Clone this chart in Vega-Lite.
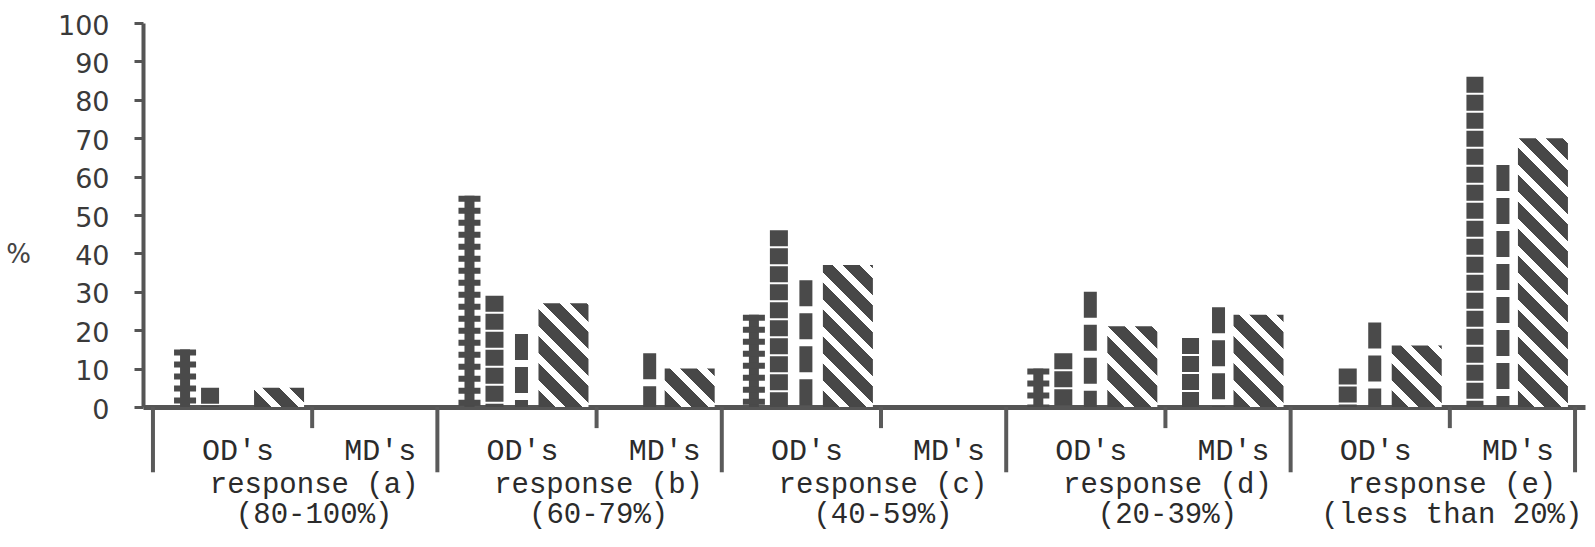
{
  "$schema": "https://vega.github.io/schema/vega-lite/v6.json",
  "width": 1442,
  "height": 384,
  "autosize": {"type": "none"},
  "padding": {"left": 143, "top": 23, "right": 10, "bottom": 140},
  "background": "#ffffff",
  "config": {
    "view": {"stroke": null},
    "axisY": {"labelOverlap": false, "titleAngle": 0, "titleX": -125, "titleY": 231, "titleAlign": "center", "titleBaseline": "middle", "titleFont": "DejaVu Sans", "titleFontSize": 26, "titleFontWeight": "normal", "titleColor": "#444444", "labelFont": "DejaVu Sans", "labelFontSize": 27, "labelColor": "#3a3a3a", "labelPadding": 25, "labelOffset": 3, "tickSize": 9, "tickWidth": 3, "tickColor": "#555555", "domainColor": "#555555", "domainWidth": 4, "grid": false},
    "axisX": {"ticks": false, "labelAngle": 0, "labelFont": "Liberation Mono", "labelFontSize": 30, "labelColor": "#2b2b2b", "labelPadding": 43, "labelBaseline": "middle", "labelOffset": 14, "labelOverlap": false, "domainColor": "#555555", "domainWidth": 5, "grid": false}
  },
  "resolve": {"axis": {"x": "independent", "y": "independent"}},
  "params": [
    {"name": "hatchStops", "value": [
      {"offset": 0, "color": "#474747"}, {"offset": 0.045, "color": "#474747"}, {"offset": 0.045, "color": "#ffffff"}, {"offset": 0.0714, "color": "#ffffff"},
      {"offset": 0.0714, "color": "#474747"}, {"offset": 0.1164, "color": "#474747"}, {"offset": 0.1164, "color": "#ffffff"}, {"offset": 0.1429, "color": "#ffffff"},
      {"offset": 0.1429, "color": "#474747"}, {"offset": 0.1879, "color": "#474747"}, {"offset": 0.1879, "color": "#ffffff"}, {"offset": 0.2143, "color": "#ffffff"},
      {"offset": 0.2143, "color": "#474747"}, {"offset": 0.2593, "color": "#474747"}, {"offset": 0.2593, "color": "#ffffff"}, {"offset": 0.2857, "color": "#ffffff"},
      {"offset": 0.2857, "color": "#474747"}, {"offset": 0.3307, "color": "#474747"}, {"offset": 0.3307, "color": "#ffffff"}, {"offset": 0.3571, "color": "#ffffff"},
      {"offset": 0.3571, "color": "#474747"}, {"offset": 0.4021, "color": "#474747"}, {"offset": 0.4021, "color": "#ffffff"}, {"offset": 0.4286, "color": "#ffffff"},
      {"offset": 0.4286, "color": "#474747"}, {"offset": 0.4736, "color": "#474747"}, {"offset": 0.4736, "color": "#ffffff"}, {"offset": 0.5, "color": "#ffffff"},
      {"offset": 0.5, "color": "#474747"}, {"offset": 0.545, "color": "#474747"}, {"offset": 0.545, "color": "#ffffff"}, {"offset": 0.5714, "color": "#ffffff"},
      {"offset": 0.5714, "color": "#474747"}, {"offset": 0.6164, "color": "#474747"}, {"offset": 0.6164, "color": "#ffffff"}, {"offset": 0.6429, "color": "#ffffff"},
      {"offset": 0.6429, "color": "#474747"}, {"offset": 0.6879, "color": "#474747"}, {"offset": 0.6879, "color": "#ffffff"}, {"offset": 0.7143, "color": "#ffffff"},
      {"offset": 0.7143, "color": "#474747"}, {"offset": 0.7593, "color": "#474747"}, {"offset": 0.7593, "color": "#ffffff"}, {"offset": 0.7857, "color": "#ffffff"},
      {"offset": 0.7857, "color": "#474747"}, {"offset": 0.8307, "color": "#474747"}, {"offset": 0.8307, "color": "#ffffff"}, {"offset": 0.8571, "color": "#ffffff"},
      {"offset": 0.8571, "color": "#474747"}, {"offset": 0.9021, "color": "#474747"}, {"offset": 0.9021, "color": "#ffffff"}, {"offset": 0.9286, "color": "#ffffff"},
      {"offset": 0.9286, "color": "#474747"}, {"offset": 0.9736, "color": "#474747"}, {"offset": 0.9736, "color": "#ffffff"}, {"offset": 1, "color": "#ffffff"}
    ]}
  ],
  "datasets": {
    "bars": [
      {"group": "a", "role": "OD", "sub": "a|OD's", "series": "star", "value": 15},
      {"group": "a", "role": "OD", "sub": "a|OD's", "series": "dense", "value": 5},
      {"group": "a", "role": "OD", "sub": "a|OD's", "series": "hatch", "value": 5},
      {"group": "b", "role": "OD", "sub": "b|OD's", "series": "star", "value": 55},
      {"group": "b", "role": "OD", "sub": "b|OD's", "series": "dense", "value": 29},
      {"group": "b", "role": "OD", "sub": "b|OD's", "series": "dash", "value": 19},
      {"group": "b", "role": "OD", "sub": "b|OD's", "series": "hatch", "value": 27},
      {"group": "b", "role": "MD", "sub": "b|MD's", "series": "dash", "value": 14},
      {"group": "b", "role": "MD", "sub": "b|MD's", "series": "hatch", "value": 10},
      {"group": "c", "role": "OD", "sub": "c|OD's", "series": "star", "value": 24},
      {"group": "c", "role": "OD", "sub": "c|OD's", "series": "dense", "value": 46},
      {"group": "c", "role": "OD", "sub": "c|OD's", "series": "dash", "value": 33},
      {"group": "c", "role": "OD", "sub": "c|OD's", "series": "hatch", "value": 37},
      {"group": "d", "role": "OD", "sub": "d|OD's", "series": "star", "value": 10},
      {"group": "d", "role": "OD", "sub": "d|OD's", "series": "dense", "value": 14},
      {"group": "d", "role": "OD", "sub": "d|OD's", "series": "dash", "value": 30},
      {"group": "d", "role": "OD", "sub": "d|OD's", "series": "hatch", "value": 21},
      {"group": "d", "role": "MD", "sub": "d|MD's", "series": "dense", "value": 18},
      {"group": "d", "role": "MD", "sub": "d|MD's", "series": "dash", "value": 26},
      {"group": "d", "role": "MD", "sub": "d|MD's", "series": "hatch", "value": 24},
      {"group": "e", "role": "OD", "sub": "e|OD's", "series": "dense", "value": 10},
      {"group": "e", "role": "OD", "sub": "e|OD's", "series": "dash", "value": 22},
      {"group": "e", "role": "OD", "sub": "e|OD's", "series": "hatch", "value": 16},
      {"group": "e", "role": "MD", "sub": "e|MD's", "series": "dense", "value": 86},
      {"group": "e", "role": "MD", "sub": "e|MD's", "series": "dash", "value": 63},
      {"group": "e", "role": "MD", "sub": "e|MD's", "series": "hatch", "value": 70}
    ],
    "grp": [
      {"group": "a", "od": "a|OD's", "md": "a|MD's", "label": "response (a)", "range": "(80-100%)"},
      {"group": "b", "od": "b|OD's", "md": "b|MD's", "label": "response (b)", "range": "(60-79%)"},
      {"group": "c", "od": "c|OD's", "md": "c|MD's", "label": "response (c)", "range": "(40-59%)"},
      {"group": "d", "od": "d|OD's", "md": "d|MD's", "label": "response (d)", "range": "(20-39%)"},
      {"group": "e", "od": "e|OD's", "md": "e|MD's", "label": "response (e)", "range": "(less than 20%)"}
    ]
  },
  "layer": [
    {
      "data": {"name": "bars"},
      "transform": [{"filter": "datum.series === 'hatch' && datum.role === 'OD'"}],
      "mark": {"type": "bar", "width": 50, "xOffset": 55},
      "encoding": {
        "x": {
          "field": "sub", "type": "nominal", "title": null,
          "scale": {"domain": ["a|OD's", "a|MD's", "b|OD's", "b|MD's", "c|OD's", "c|MD's", "d|OD's", "d|MD's", "e|OD's", "e|MD's"], "paddingInner": 0, "paddingOuter": 0.07},
          "axis": {"labelExpr": "split(datum.value, '|')[1]"}
        },
        "y": {
          "field": "value", "type": "quantitative", "title": "%",
          "scale": {"domain": [0, 100], "nice": false},
          "axis": {"values": [0, 10, 20, 30, 40, 50, 60, 70, 80, 90, 100], "tickCount": 11}
        },
        "fill": {"value": {"expr": "{gradient: 'linear', x1: 0, y1: 1, x2: 50 * 378 / (2500 + pow(scale('y', 0) - scale('y', datum.value), 2)), y2: 1 - (scale('y', 0) - scale('y', datum.value)) * 378 / (2500 + pow(scale('y', 0) - scale('y', datum.value), 2)), stops: hatchStops}"}}
      }
    },
    {
      "data": {"name": "bars"},
      "transform": [{"filter": "datum.series === 'hatch' && datum.role === 'MD'"}],
      "mark": {"type": "bar", "width": 50, "xOffset": 39},
      "encoding": {
        "x": {"field": "sub", "type": "nominal", "axis": null},
        "y": {"field": "value", "type": "quantitative", "axis": null},
        "fill": {"value": {"expr": "{gradient: 'linear', x1: 0, y1: 1, x2: 50 * 378 / (2500 + pow(scale('y', 0) - scale('y', datum.value), 2)), y2: 1 - (scale('y', 0) - scale('y', datum.value)) * 378 / (2500 + pow(scale('y', 0) - scale('y', datum.value), 2)), stops: hatchStops}"}}
      }
    },
    {
      "data": {"name": "bars"},
      "transform": [{"filter": "datum.series === 'star'"}],
      "mark": {"type": "rule", "strokeWidth": 10, "color": "#4a4a4a", "xOffset": -39},
      "encoding": {"x": {"field": "sub", "type": "nominal", "axis": null}, "y": {"field": "value", "type": "quantitative", "axis": null}, "y2": {"datum": 0}}
    },
    {
      "data": {"name": "bars"},
      "transform": [{"filter": "datum.series === 'star'"}],
      "mark": {"type": "rule", "strokeWidth": 22, "color": "#4a4a4a", "strokeDash": [6, 6], "xOffset": -39},
      "encoding": {"x": {"field": "sub", "type": "nominal", "axis": null}, "y": {"field": "value", "type": "quantitative", "axis": null}, "y2": {"datum": 0}}
    },
    {
      "data": {"name": "bars"},
      "transform": [{"filter": "datum.series === 'dense' && datum.role === 'OD'"}],
      "mark": {"type": "rule", "strokeWidth": 18, "color": "#4a4a4a", "strokeDash": [16, 2], "xOffset": -14},
      "encoding": {"x": {"field": "sub", "type": "nominal", "axis": null}, "y": {"field": "value", "type": "quantitative", "axis": null}, "y2": {"datum": 0}}
    },
    {
      "data": {"name": "bars"},
      "transform": [{"filter": "datum.series === 'dense' && datum.role === 'MD'"}],
      "mark": {"type": "rule", "strokeWidth": 17, "color": "#4a4a4a", "strokeDash": [16, 2], "xOffset": -29},
      "encoding": {"x": {"field": "sub", "type": "nominal", "axis": null}, "y": {"field": "value", "type": "quantitative", "axis": null}, "y2": {"datum": 0}}
    },
    {
      "data": {"name": "bars"},
      "transform": [{"filter": "datum.series === 'dash' && datum.role === 'OD'"}],
      "mark": {"type": "rule", "strokeWidth": 13, "color": "#4a4a4a", "strokeDash": [26, 7], "xOffset": 13},
      "encoding": {"x": {"field": "sub", "type": "nominal", "axis": null}, "y": {"field": "value", "type": "quantitative", "axis": null}, "y2": {"datum": 0}}
    },
    {
      "data": {"name": "bars"},
      "transform": [{"filter": "datum.series === 'dash' && datum.role === 'MD'"}],
      "mark": {"type": "rule", "strokeWidth": 13, "color": "#4a4a4a", "strokeDash": [26, 7], "xOffset": -1},
      "encoding": {"x": {"field": "sub", "type": "nominal", "axis": null}, "y": {"field": "value", "type": "quantitative", "axis": null}, "y2": {"datum": 0}}
    },
    {
      "data": {"name": "grp"},
      "mark": {"type": "rule", "strokeWidth": 4, "color": "#5a5a5a"},
      "encoding": {
        "x": {"field": "od", "type": "nominal", "bandPosition": 0, "axis": null},
        "y": {"datum": 0, "axis": null},
        "y2": {"datum": -17}
      }
    },
    {
      "data": {"name": "grp"},
      "transform": [{"filter": "datum.group === 'e'"}],
      "mark": {"type": "rule", "strokeWidth": 4, "color": "#5a5a5a"},
      "encoding": {
        "x": {"field": "md", "type": "nominal", "bandPosition": 1, "axis": null},
        "y": {"datum": 0, "axis": null},
        "y2": {"datum": -17}
      }
    },
    {
      "data": {"name": "grp"},
      "mark": {"type": "rule", "strokeWidth": 4, "color": "#5a5a5a", "xOffset": 17},
      "encoding": {
        "x": {"field": "md", "type": "nominal", "bandPosition": 0, "axis": null},
        "y": {"datum": 0, "axis": null},
        "y2": {"datum": -5.5}
      }
    },
    {
      "data": {"name": "grp"},
      "mark": {"type": "text", "font": "Liberation Mono", "fontSize": 29, "color": "#2b2b2b", "dx": 19, "baseline": "middle"},
      "encoding": {
        "x": {"field": "md", "type": "nominal", "bandPosition": 0, "axis": null},
        "y": {"datum": -20.1, "axis": null},
        "text": {"field": "label"}
      }
    },
    {
      "data": {"name": "grp"},
      "mark": {"type": "text", "font": "Liberation Mono", "fontSize": 29, "color": "#2b2b2b", "dx": 19, "baseline": "middle"},
      "encoding": {
        "x": {"field": "md", "type": "nominal", "bandPosition": 0, "axis": null},
        "y": {"datum": -27.9, "axis": null},
        "text": {"field": "range"}
      }
    }
  ]
}
